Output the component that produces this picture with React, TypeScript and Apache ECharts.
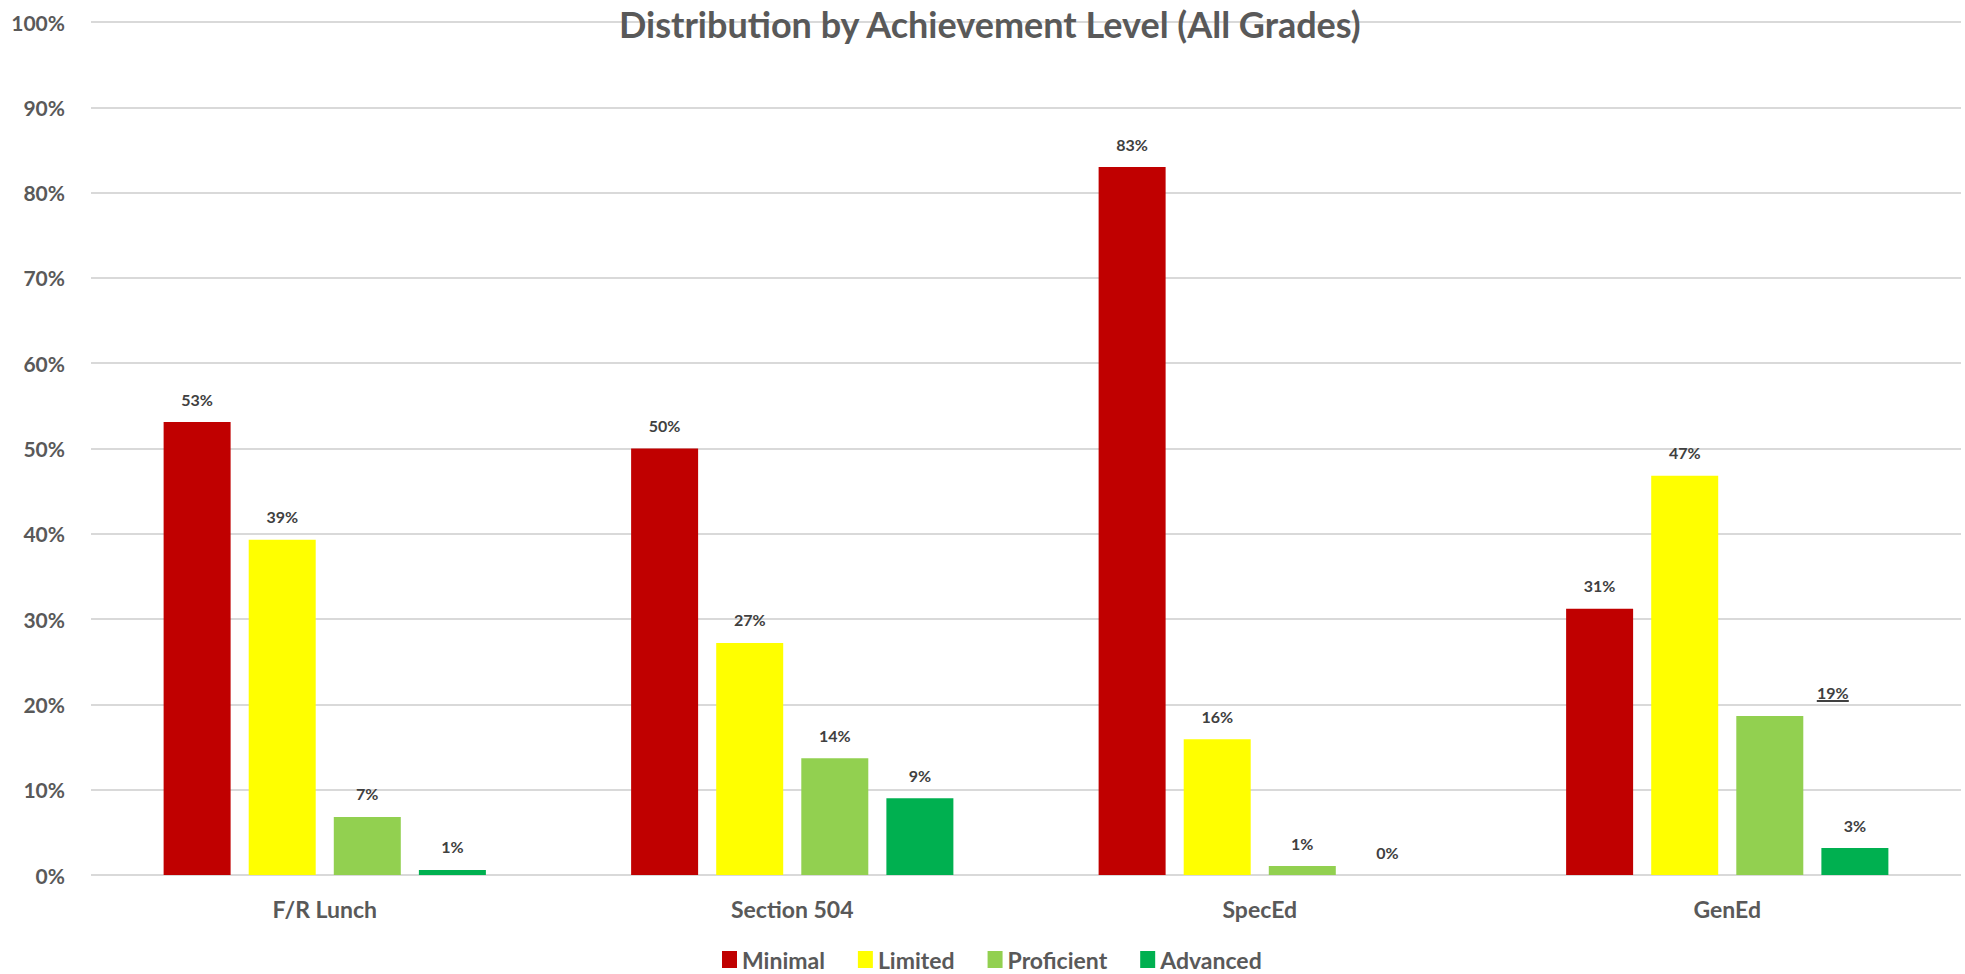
import React, { useEffect, useRef } from "react";
import * as echarts from "echarts";

const categories = ["F/R Lunch", "Section 504", "SpecEd", "GenEd"];
const seriesNames = ["Minimal", "Limited", "Proficient", "Advanced"];
const minimal = [53.1, 50.0, 83.0, 31.2];
const limited = [39.3, 27.2, 15.9, 46.8];
const proficient = [6.8, 13.7, 1.05, 18.64];
const advanced = [0.6, 9.0, 0, 3.16];
const colors = ["#C00000", "#FFFF00", "#92D050", "#00B050"];
const yTicks = { min: 0, max: 100, interval: 10 };

const FONT = "Lato";

export default function App() {
  const ref = useRef<HTMLDivElement>(null);
  useEffect(() => {
    document.body.style.margin = "0";
    const chart = echarts.init(ref.current!, null, { renderer: "svg" });
    const values = [minimal, limited, proficient, advanced];
    const labelBase = {
      show: true,
      position: "top",
      distance: 15,
      fontFamily: FONT,
      fontWeight: "bold",
      fontSize: 16,
      color: "#404040",
      formatter: (p: any) => Math.round(p.value) + "%",
    };
    const series = values.map((vals, si) => ({
      name: seriesNames[si],
      type: "bar",
      barWidth: 67,
      barGap: "27%",
      itemStyle: { color: colors[si] },
      label: labelBase,
      data: vals.map((v, ci) => {
        if (si === 2 && ci === 3) {
          return {
            value: v,
            label: {
              offset: [63, 1],
              formatter: (p: any) => "{t|" + Math.round(p.value) + "%}\n{u|}",
              rich: {
                t: {
                  fontFamily: FONT,
                  fontWeight: "bold",
                  fontSize: 16,
                  color: "#404040",
                  lineHeight: 15,
                },
                u: { width: 32, height: 2, lineHeight: 2, backgroundColor: "#404040" },
              },
            },
          };
        }
        return v;
      }),
    }));
    chart.setOption({
      animation: false,
      backgroundColor: "#ffffff",
      title: {
        text: "Distribution by Achievement Level (All Grades)",
        left: 614,
        top: 1,
        textStyle: {
          fontFamily: FONT,
          fontWeight: "bold",
          fontSize: 36,
          color: "#595959",
        },
      },
      legend: {
        data: seriesNames,
        left: 717,
        top: 943,
        icon: "rect",
        itemWidth: 15,
        itemHeight: 17,
        itemGap: 33,
        textStyle: {
          fontFamily: FONT,
          fontWeight: "bold",
          fontSize: 23,
          color: "#595959",
        },
      },
      grid: { left: 91, right: 4, top: 22, bottom: 99, containLabel: false },
      xAxis: {
        type: "category",
        data: categories,
        axisLine: { show: false },
        axisTick: { show: false },
        axisLabel: {
          margin: 22,
          fontFamily: FONT,
          fontWeight: "bold",
          fontSize: 23,
          color: "#595959",
        },
      },
      yAxis: {
        type: "value",
        min: yTicks.min,
        max: yTicks.max,
        interval: yTicks.interval,
        axisLine: { show: false },
        axisTick: { show: false },
        splitLine: { lineStyle: { color: "#D9D9D9", width: 2 } },
        axisLabel: {
          margin: 26,
          formatter: "{value}%",
          fontFamily: FONT,
          fontWeight: "bold",
          fontSize: 21,
          color: "#595959",
        },
      },
      series,
    });
    return () => chart.dispose();
  }, []);
  return (
    <div
      ref={ref}
      style={{ position: "fixed", left: 0, top: 0, width: 1965, height: 974 }}
    />
  );
}
